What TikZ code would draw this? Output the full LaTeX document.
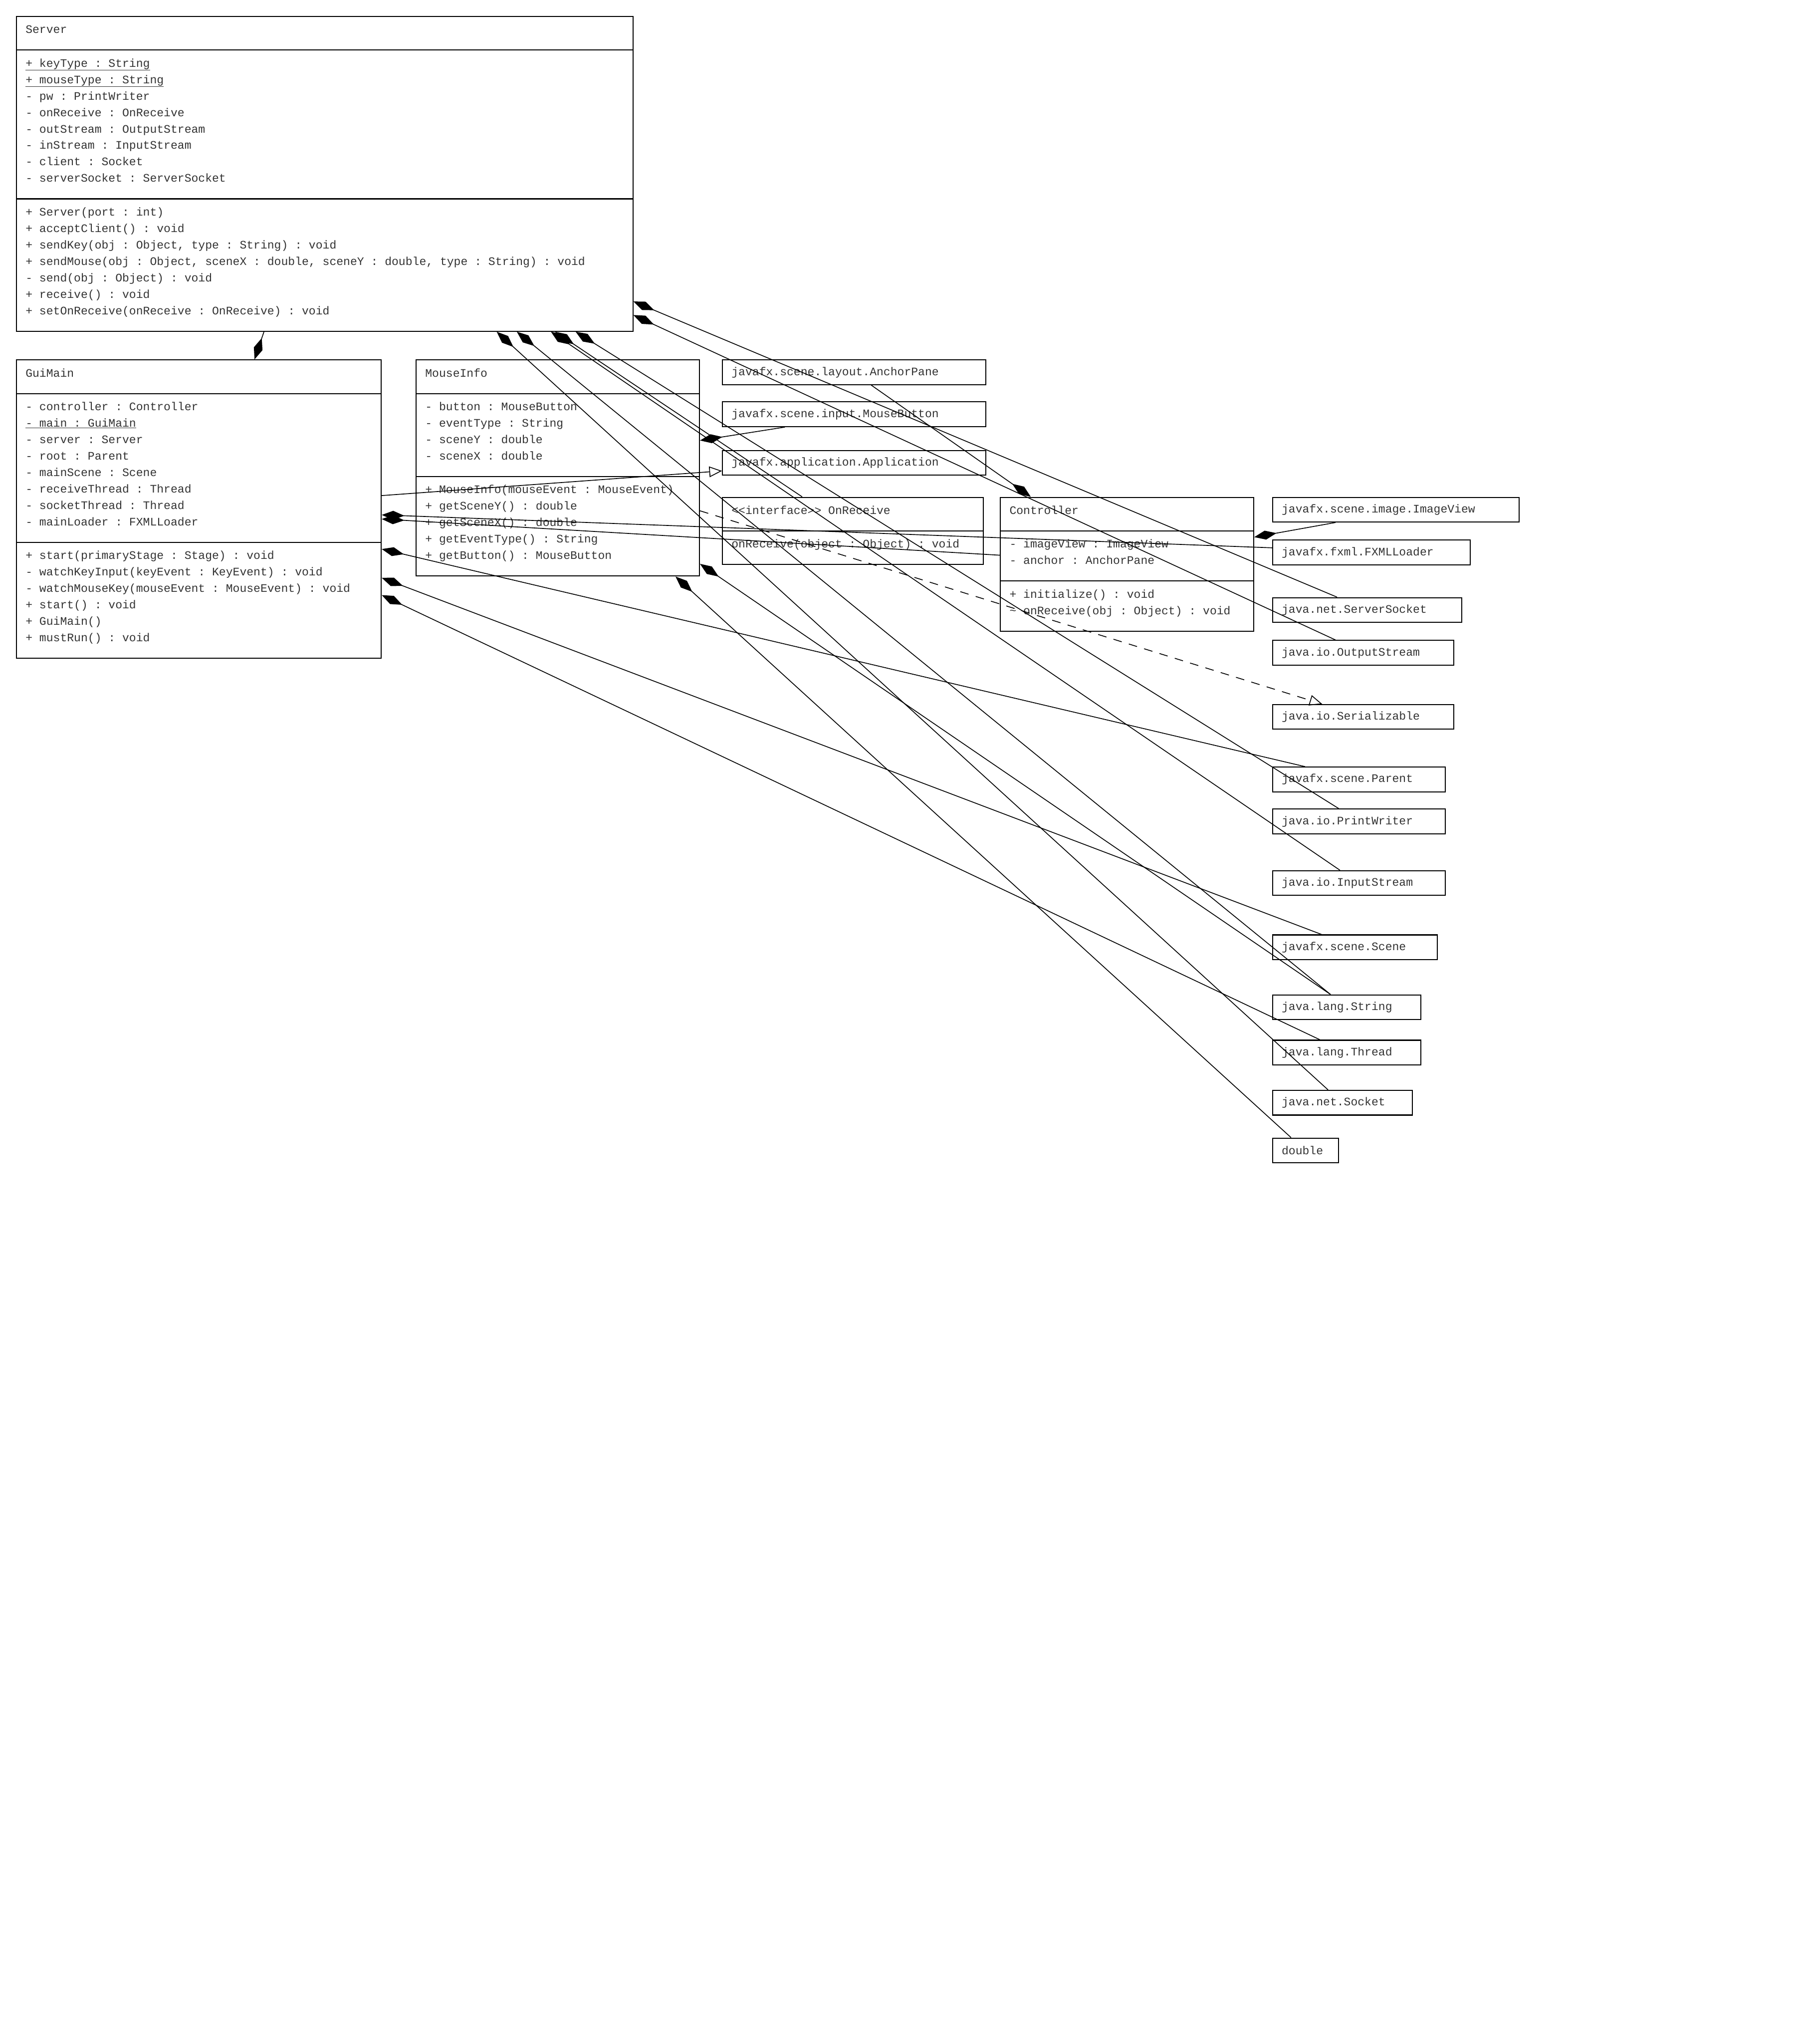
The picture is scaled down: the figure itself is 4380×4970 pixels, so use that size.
\documentclass[tikz,border=0pt]{standalone}
\usepackage{fontspec}
\usetikzlibrary{arrows.meta, shapes.multipart}
\newfontfamily\monofam{Liberation Mono}
\newcommand{\umlfont}{\monofam\fontsize{28pt}{40pt}\selectfont\frenchspacing\lineskiplimit=-100pt\relax}
\newcommand{\rw}{\spaceskip=16.8pt\relax\xspaceskip=16.8pt\relax\rule[-20pt]{0pt}{40pt}}
\tikzset{
  umlclass/.style={draw, line width=2.5pt, rectangle split, rectangle split parts=3, anchor=north west, align=left, inner xsep=22pt, inner ysep=19.5pt, font=\umlfont, text=black!80},
  extclass/.style={draw, line width=2.5pt, anchor=north west, minimum height=60pt, inner xsep=22pt, inner ysep=0pt, align=left, font=\umlfont, text=black!80},
  compose/.style={draw, line width=2pt, {Diamond[length=55pt, width=22pt]}-},
  inherit/.style={draw, line width=2pt, -{Triangle[open, length=31pt, width=26pt]}},
  realize/.style={draw, line width=2pt, dash pattern=on 21pt off 18pt, -{Triangle[open, length=31pt, width=26pt]}}
}

\begin{document}
\begin{tikzpicture}[x=1pt, y=-1pt]
    \useasboundingbox (0,0) rectangle (4380,4970);

    \node[umlclass, text width=1455pt] (server) at (39,39) {\rw Server
        \nodepart{two}\rw\underline{+ keyType : String}\\
        \rw\underline{+ mouseType : String}\\
        \rw- pw : PrintWriter\\
        \rw- onReceive : OnReceive\\
        \rw- outStream : OutputStream\\
        \rw- inStream : InputStream\\
        \rw- client : Socket\\
        \rw- serverSocket : ServerSocket
        \nodepart{three}\rw+ Server(port : int)\\
        \rw+ acceptClient() : void\\
        \rw+ sendKey(obj : Object, type : String) : void\\
        \rw+ sendMouse(obj : Object, sceneX : double, sceneY : double, type : String) : void\\
        \rw- send(obj : Object) : void\\
        \rw+ receive() : void\\
        \rw+ setOnReceive(onReceive : OnReceive) : void};

    \node[umlclass, text width=843pt] (guimain) at (39,874) {\rw GuiMain
        \nodepart{two}\rw- controller : Controller\\
        \rw\underline{- main : GuiMain}\\
        \rw- server : Server\\
        \rw- root : Parent\\
        \rw- mainScene : Scene\\
        \rw- receiveThread : Thread\\
        \rw- socketThread : Thread\\
        \rw- mainLoader : FXMLLoader
        \nodepart{three}\rw+ start(primaryStage : Stage) : void\\
        \rw- watchKeyInput(keyEvent : KeyEvent) : void\\
        \rw- watchMouseKey(mouseEvent : MouseEvent) : void\\
        \rw+ start() : void\\
        \rw+ GuiMain()\\
        \rw+ mustRun() : void};

    \node[umlclass, text width=645pt] (mouseinfo) at (1011,874) {\rw MouseInfo
        \nodepart{two}\rw- button : MouseButton\\
        \rw- eventType : String\\
        \rw- sceneY : double\\
        \rw- sceneX : double
        \nodepart{three}\rw+ MouseInfo(mouseEvent : MouseEvent)\\
        \rw+ getSceneY() : double\\
        \rw+ getSceneX() : double\\
        \rw+ getEventType() : String\\
        \rw+ getButton() : MouseButton};

    \node[umlclass, rectangle split parts=2, text width=590pt] (onreceive) at (1756,1208) {\rw\textless\textless interface\textgreater\textgreater{} OnReceive
        \nodepart{two}\rw onReceive(object : Object) : void};

    \node[umlclass, text width=572pt] (controller) at (2432,1208) {\rw Controller
        \nodepart{two}\rw- imageView : ImageView\\
        \rw- anchor : AnchorPane
        \nodepart{three}\rw+ initialize() : void\\
        \rw\textasciitilde{} onReceive(obj : Object) : void};

    \node[extclass, text width=596pt] (anchorpane) at (1756,874) {javafx.scene.layout.AnchorPane};
    \node[extclass, text width=596pt] (mousebutton) at (1756,976) {javafx.scene.input.MouseButton};
    \node[extclass, text width=596pt] (application) at (1756,1094) {javafx.application.Application};

    \node[extclass, text width=556pt] (imageview) at (3094,1208) {javafx.scene.image.ImageView};
    \node[extclass, text width=436pt] (fxmlloader) at (3094,1312) {javafx.fxml.FXMLLoader};
    \node[extclass, text width=416pt] (serversocket) at (3094,1452) {java.net.ServerSocket};
    \node[extclass, text width=396pt] (outputstream) at (3094,1556) {java.io.OutputStream};
    \node[extclass, text width=396pt] (serializable) at (3094,1712) {java.io.Serializable};
    \node[extclass, text width=376pt] (parent) at (3094,1864) {javafx.scene.Parent};
    \node[extclass, text width=376pt] (printwriter) at (3094,1966) {java.io.PrintWriter};
    \node[extclass, text width=376pt] (inputstream) at (3094,2116) {java.io.InputStream};
    \node[extclass, text width=356pt] (scene) at (3094,2272) {javafx.scene.Scene};
    \node[extclass, text width=316pt] (string) at (3094,2418) {java.lang.String};
    \node[extclass, text width=316pt] (thread) at (3094,2528) {java.lang.Thread};
    \node[extclass, text width=296pt] (socket) at (3094,2650) {java.net.Socket};
    \node[extclass, text width=116pt] (dbltype) at (3094,2766) {double};

    \draw[compose] ([xshift=580pt]guimain.north west) -- ([xshift=603pt]server.south west);
    \draw[inherit] ([yshift=-331pt]guimain.north east) -- ([yshift=-51pt]application.north west);
    \draw[compose] ([yshift=-378pt]guimain.north east) -- ([yshift=-20pt]fxmlloader.north west);
    \draw[compose] ([yshift=-388pt]guimain.north east) -- ([yshift=-142pt]controller.north west);
    \draw[compose] ([yshift=-461pt]guimain.north east) -- ([xshift=80pt]parent.north west);
    \draw[compose] ([yshift=-531pt]guimain.north east) -- ([xshift=120pt]scene.north west);
    \draw[compose] ([yshift=-573pt]guimain.north east) -- ([xshift=116pt]thread.north west);

    \draw[compose] ([yshift=-197pt]mouseinfo.north east) -- ([xshift=153pt]mousebutton.south west);
    \draw[realize] ([yshift=-368pt]mouseinfo.north east) -- ([xshift=122pt]serializable.north west);
    \draw[compose] ([yshift=-497pt]mouseinfo.north east) -- ([xshift=142pt]string.north west);
    \draw[compose] ([xshift=632pt]mouseinfo.south west) -- ([xshift=46pt]dbltype.north west);

    \draw[compose] ([xshift=75pt]controller.north west) -- ([xshift=363pt]anchorpane.south west);
    \draw[compose] ([yshift=-98pt]controller.north east) -- ([xshift=154pt]imageview.south west);

    \draw[compose] ([yshift=-694pt]server.north east) -- ([xshift=158pt]serversocket.north west);
    \draw[compose] ([yshift=-727pt]server.north east) -- ([xshift=154pt]outputstream.north west);
    \draw[compose] ([xshift=1169pt]server.south west) -- ([xshift=136pt]socket.north west);
    \draw[compose] ([xshift=1218pt]server.south west) -- ([xshift=142pt]string.north west);
    \draw[compose] ([xshift=1301pt]server.south west) -- ([xshift=165pt]inputstream.north west);
    \draw[compose] ([xshift=1311pt]server.south west) -- ([xshift=195pt]onreceive.north west);
    \draw[compose] ([xshift=1361pt]server.south west) -- ([xshift=162pt]printwriter.north west);
\end{tikzpicture}
\end{document}
